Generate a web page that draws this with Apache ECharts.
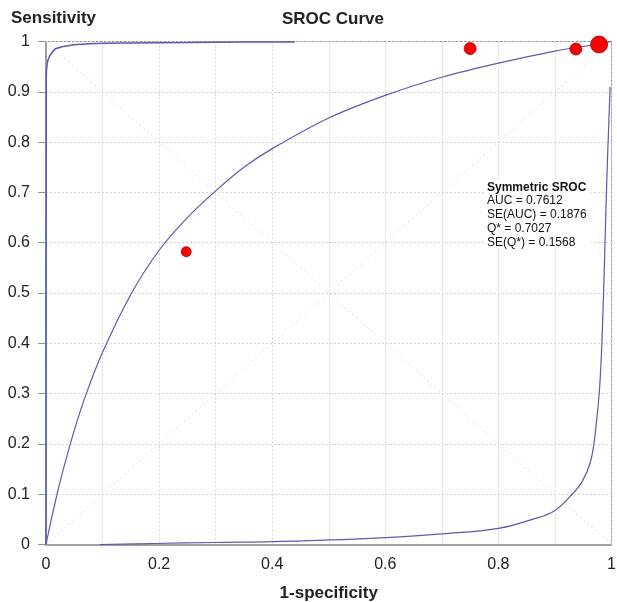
<!DOCTYPE html>
<html>
<head>
<meta charset="utf-8">
<script src="https://cdn.jsdelivr.net/npm/echarts@6/dist/echarts.min.js"></script>
<style>
html,body{margin:0;padding:0;background:#fff;}
#chart{width:617px;height:602px;}
</style>
</head>
<body>
<div id="chart"></div>
<script>
// SROC curve (1-specificity, sensitivity)
var srocX = [0, 0.01, 0.02, 0.03, 0.05, 0.07, 0.1, 0.15, 0.2, 0.25, 0.3, 0.35, 0.4, 0.5, 0.6, 0.7, 0.8, 0.9, 0.95, 1.0];
var srocY = [0, 0.053, 0.102, 0.147, 0.227, 0.296, 0.382, 0.497, 0.585, 0.65, 0.703, 0.75, 0.787, 0.848, 0.893, 0.929, 0.957, 0.981, 0.99, 1.0];

// Upper confidence band
var upperX = [0, 0.0005, 0.002, 0.006, 0.018, 0.047, 0.089, 0.15, 0.25, 0.35, 0.44];
var upperY = [0, 0.93, 0.955, 0.97, 0.986, 0.993, 0.996, 0.997, 0.998, 0.999, 0.999];

// Lower confidence band
var lowerX = [0.095, 0.19, 0.3, 0.4, 0.5, 0.6, 0.7, 0.8, 0.86, 0.898, 0.928, 0.948, 0.963, 0.972, 0.98, 0.986, 0.991, 0.9975];
var lowerY = [0, 0.002, 0.004, 0.0056, 0.009, 0.0135, 0.021, 0.032, 0.05, 0.066, 0.097, 0.125, 0.165, 0.229, 0.33, 0.5, 0.7, 0.91];

// Study points
var studyX = [0.248, 0.750, 0.937, 0.978];
var studyY = [0.582, 0.986, 0.985, 0.994];
var studySize = [10, 12, 12, 17];

// Tick labels
var yTicks = [0, 0.1, 0.2, 0.3, 0.4, 0.5, 0.6, 0.7, 0.8, 0.9, 1];
var xTicks = [0, 0.2, 0.4, 0.6, 0.8, 1];

var statsLines = ['AUC = 0.7612', 'SE(AUC) = 0.1876', 'Q* = 0.7027', 'SE(Q*) = 0.1568'];

function pairs(xs, ys) { return xs.map(function (x, i) { return [x, ys[i]]; }); }

var FONT = '"Liberation Sans", Arial, sans-serif';
var curveColor = '#5a5ab4';

var chart = echarts.init(document.getElementById('chart'), null, { renderer: 'canvas' });

var statsGraphics = [
  { type: 'rect', left: 485, top: 179, shape: { width: 106, height: 69 }, style: { fill: '#fff' }, z: 10 },
  {
    type: 'text', left: 487, top: 181.5, z: 11,
    style: { text: 'Symmetric SROC', font: 'bold 12px ' + FONT, fill: '#111' }
  }
].concat(statsLines.map(function (t, i) {
  return { type: 'text', left: 487, top: 195 + i * 13.8, z: 11, style: { text: t, font: '12px ' + FONT, fill: '#111' } };
}));

chart.setOption({
  animation: false,
  backgroundColor: '#fff',
  grid: {
    left: 46, right: 5.5, top: 41.5, bottom: 57.5, show: true, borderColor: '#999', borderWidth: 1,
    containLabel: false, outerBoundsMode: 'none'
  },
  xAxis: {
    type: 'value', min: 0, max: 1, interval: 0.1,
    name: '1-specificity', nameLocation: 'middle', nameGap: 40,
    nameTextStyle: { fontFamily: FONT, fontWeight: 'bold', fontSize: 17, color: '#222' },
    axisLine: { show: true, lineStyle: { color: '#a0a0a0', width: 2 } },
    axisTick: { show: false },
    axisLabel: {
      margin: 12, fontFamily: FONT, fontSize: 16, color: '#222',
      formatter: function (v) {
        for (var i = 0; i < xTicks.length; i++) { if (Math.abs(xTicks[i] - v) < 1e-6) return String(xTicks[i]); }
        return '';
      }
    },
    splitLine: { show: true, lineStyle: { color: '#d4d4d4', type: [2, 2], width: 1 } }
  },
  yAxis: {
    type: 'value', min: 0, max: 1, interval: 0.1,
    axisLine: { show: true, lineStyle: { color: '#909090', width: 1.5 } },
    axisTick: { show: true, length: 8, lineStyle: { color: '#909090' } },
    axisLabel: {
      margin: 16, fontFamily: FONT, fontSize: 16, color: '#222',
      formatter: function (v) {
        for (var i = 0; i < yTicks.length; i++) { if (Math.abs(yTicks[i] - v) < 1e-6) return String(yTicks[i]); }
        return '';
      }
    },
    splitLine: { show: true, lineStyle: { color: '#d4d4d4', type: [2, 2], width: 1 } }
  },
  graphic: [
    { type: 'text', left: 11, top: 10, style: { text: 'Sensitivity', font: 'bold 17px ' + FONT, fill: '#222' } },
    { type: 'text', left: 282, top: 10.5, style: { text: 'SROC Curve', font: 'bold 17px ' + FONT, fill: '#222' } }
  ].concat(statsGraphics),
  series: [
    {
      type: 'line', data: [[0, 0], [1, 1]], symbol: 'none', silent: true,
      lineStyle: { color: '#e2e2e2', width: 1, type: [2, 3] }, z: 1
    },
    {
      type: 'line', data: [[0, 1], [1, 0]], symbol: 'none', silent: true,
      lineStyle: { color: '#e2e2e2', width: 1, type: [2, 3] }, z: 1
    },
    {
      type: 'line', data: pairs(srocX, srocY), symbol: 'none', smooth: 0.3,
      lineStyle: { color: curveColor, width: 1.2 }, z: 3
    },
    {
      type: 'line', data: pairs(upperX, upperY), symbol: 'none', smooth: 0.3,
      lineStyle: { color: curveColor, width: 1.5 }, z: 3
    },
    {
      type: 'line', data: pairs(lowerX, lowerY), symbol: 'none', smooth: 0.4,
      lineStyle: { color: curveColor, width: 1.2 }, z: 3
    },
    {
      type: 'scatter',
      data: studyX.map(function (x, i) { return { value: [x, studyY[i]], symbolSize: studySize[i] }; }),
      itemStyle: { color: '#ff0000', borderColor: '#a00000', borderWidth: 0.8, opacity: 1 },
      z: 5
    }
  ]
});
</script>
</body>
</html>
